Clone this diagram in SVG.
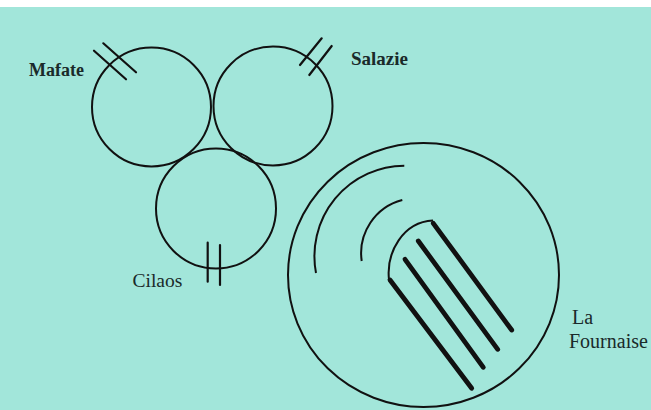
<svg xmlns="http://www.w3.org/2000/svg" width="651" height="410" viewBox="0 0 651 410">
<style>
.c{fill:none;stroke:#111;stroke-width:2}
.h{stroke:#111;stroke-width:2.2;stroke-linecap:round}
.t{stroke:#111;stroke-width:4.8;stroke-linecap:round;fill:none}
.lb{fill:#1a2a2a}
</style>
<rect x="0" y="0" width="651" height="410" fill="#ffffff"/>
<rect x="0" y="7" width="651" height="403" fill="#a2e6da"/>
<g id="connectors"></g>
<g id="mafate">
<circle class="c" cx="151.5" cy="107" r="59.5"/>
<line class="h" x1="94" y1="50.7" x2="126" y2="79.3"/>
<line class="h" x1="103.3" y1="43.3" x2="136" y2="72.3"/>
<text class="lb" x="29" y="76" font-family="Liberation Serif, 'Times New Roman', serif" font-size="18" font-weight="bold">Mafate</text>
</g>
<g id="salazie">
<circle class="c" cx="273" cy="106" r="59.5"/>
<line class="h" x1="300" y1="65" x2="321.7" y2="38.3"/>
<line class="h" x1="309.3" y1="75" x2="331.7" y2="46"/>
<text class="lb" x="351" y="65" font-family="Liberation Serif, 'Times New Roman', serif" font-size="19" font-weight="bold">Salazie</text>
</g>
<g id="cilaos">
<circle class="c" cx="216" cy="208.5" r="60"/>
<line class="h" x1="207.7" y1="242.7" x2="207.7" y2="281.7"/>
<line class="h" x1="220" y1="245" x2="220" y2="285"/>
<text class="lb" x="132.5" y="287" font-family="Liberation Serif, 'Times New Roman', serif" font-size="19.5">Cilaos</text>
</g>
<g id="fournaise">
<ellipse class="c" cx="423.5" cy="275" rx="135.5" ry="132"/>
<path class="c" d="M316,273 A90.5,90.5 0 0 1 404.3,165.7"/>
<path class="c" d="M361.7,261 A55,55 0 0 1 402.3,200"/>
<path class="c" d="M389,280 C386,252 403,222 433,220.5"/>
<line class="t" x1="390" y1="280" x2="471.7" y2="388.3"/>
<line class="t" x1="405" y1="259.3" x2="483.3" y2="367.3"/>
<line class="t" x1="418.3" y1="241" x2="497.7" y2="349.3"/>
<line class="t" x1="433.3" y1="223.3" x2="511.7" y2="330"/>
<text class="lb" x="572" y="324" font-family="Liberation Serif, 'Times New Roman', serif" font-size="20">La</text>
<text class="lb" x="569" y="348" font-family="Liberation Serif, 'Times New Roman', serif" font-size="20">Fournaise</text>
</g>
</svg>
